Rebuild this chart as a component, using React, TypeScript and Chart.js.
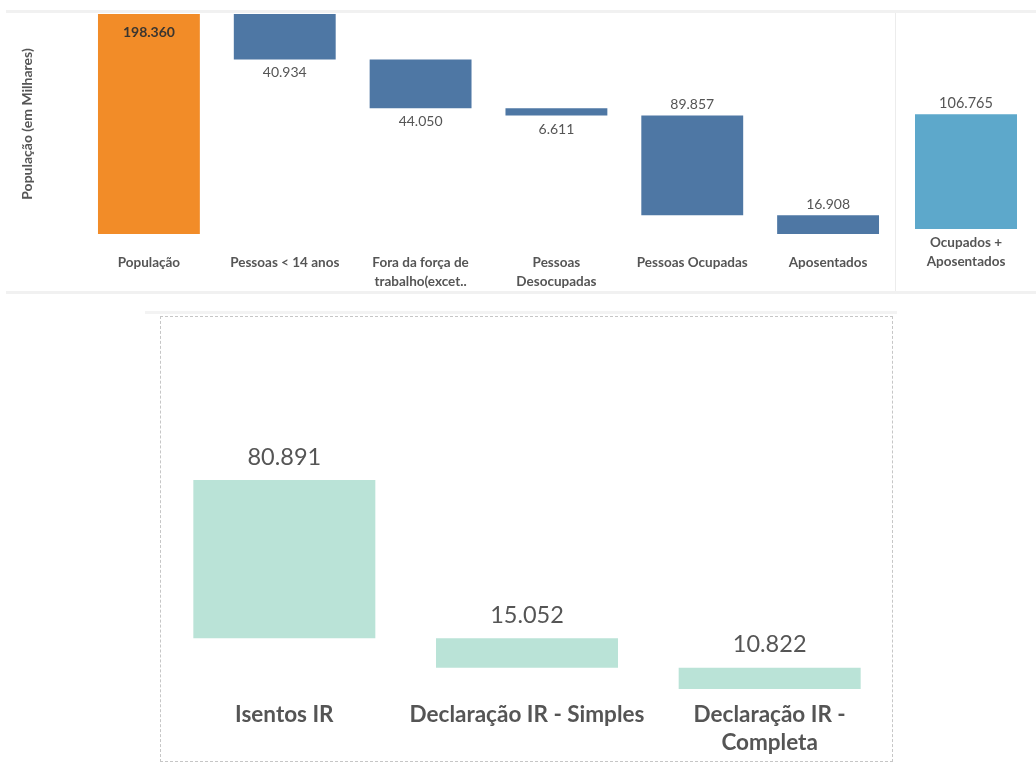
import React, { useEffect, useRef } from "react";
import { Chart, registerables } from "chart.js";
Chart.register(...registerables);

// ---------- data ----------
const topCategories: string[][] = [
  ["População"],
  ["Pessoas < 14 anos"],
  ["Fora da força de", "trabalho(excet.."],
  ["Pessoas", "Desocupadas"],
  ["Pessoas Ocupadas"],
  ["Aposentados"],
];
const topValues = [198360, 40934, 44050, 6611, 89857, 16908];
const totalCategories: string[][] = [["Ocupados +", "Aposentados"]];
const totalValues = [106765];
const irCategories: string[][] = [["Isentos IR"], ["Declaração IR - Simples"], ["Declaração IR -", "Completa"]];
const irValues = [80891, 15052, 10822];
const yAxisTitle = "População (em Milhares)";

// ---------- helpers ----------
function fmt(v: number) {
  return String(Math.round(v)).replace(/\B(?=(\d{3})+(?!\d))/g, ".");
}
function waterfallFromStart(values: number[]) {
  const out: number[][] = [];
  let run = values[0];
  out.push([0, run]);
  for (let i = 1; i < values.length; i++) {
    out.push([run - values[i], run]);
    run -= values[i];
  }
  return out;
}
function waterfallDown(values: number[]) {
  let run = values.reduce((a, b) => a + b, 0);
  return values.map((v) => {
    const seg = [run - v, run];
    run -= v;
    return seg;
  });
}

const FONT = "Lato, 'Open Sans', sans-serif";

const valueLabels = {
  id: "valueLabels",
  afterDatasetsDraw(chart: any, _args: any, opts: any) {
    if (!opts || !opts.values) return;
    const { ctx } = chart;
    const meta = chart.getDatasetMeta(0);
    meta.data.forEach((el: any, i: number) => {
      const p = el.getProps(["x", "y", "base"], true);
      const top = Math.min(p.y, p.base);
      const bottom = Math.max(p.y, p.base);
      const pos = opts.positions[i];
      let y: number;
      ctx.save();
      ctx.textAlign = "center";
      ctx.textBaseline = "middle";
      if (pos === "inside") {
        ctx.font = opts.insideFont;
        ctx.fillStyle = opts.insideColor;
        y = top + opts.insideOffset;
      } else {
        ctx.font = opts.font;
        ctx.fillStyle = opts.color;
        y = pos === "above" ? top - opts.offsetAbove : bottom + opts.offsetBelow;
      }
      ctx.fillText(fmt(opts.values[i]), p.x, y);
      ctx.restore();
    });
  },
};

function useChart(ref: React.RefObject<HTMLCanvasElement>, makeConfig: () => any) {
  useEffect(() => {
    if (!ref.current) return;
    const chart = new Chart(ref.current, makeConfig());
    return () => chart.destroy();
  }, []);
}

const noGrid = { display: false, drawTicks: false };

function MainChart() {
  const ref = useRef<HTMLCanvasElement>(null);
  useChart(ref, () => ({
    type: "bar",
    data: {
      labels: topCategories,
      datasets: [
        {
          data: waterfallFromStart(topValues),
          backgroundColor: ["#F28C28", "#4E77A4", "#4E77A4", "#4E77A4", "#4E77A4", "#4E77A4"],
          categoryPercentage: 1,
          barPercentage: 0.75,
          borderSkipped: false,
        },
      ],
    },
    options: {
      responsive: false,
      animation: false,
      layout: { padding: { top: 2, left: 0, right: 0, bottom: 0 } },
      plugins: {
        legend: { display: false },
        tooltip: { enabled: false },
        valueLabels: {
          values: topValues,
          positions: ["inside", "below", "below", "below", "above", "above"],
          font: `14px ${FONT}`,
          color: "#555555",
          insideFont: `bold 14px ${FONT}`,
          insideColor: "#3a3530",
          offsetAbove: 11,
          offsetBelow: 13.5,
          insideOffset: 18,
        },
      },
      scales: {
        x: {
          grid: noGrid,
          border: { display: false },
          ticks: {
            color: "#555555",
            font: { family: FONT, size: 13.5, weight: "bold", lineHeight: 1.35 },
            padding: 20,
            maxRotation: 0,
            autoSkip: false,
          },
          afterFit: (s: any) => {
            s.height = 58;
          },
        },
        y: {
          min: 0,
          max: 198360,
          grid: noGrid,
          border: { display: false },
          ticks: { display: false },
          title: {
            display: true,
            text: yAxisTitle,
            color: "#555555",
            font: { family: FONT, size: 14, weight: "bold", lineHeight: 1.2 },
            padding: { top: 19, bottom: 0 },
          },
          afterFit: (s: any) => {
            s.width = 81;
          },
        },
      },
    },
    plugins: [valueLabels],
  }));
  return <canvas ref={ref} width={896} height={280} style={{ position: "absolute", left: 0, top: 12, width: 896, height: 280 }} />;
}

function TotalChart() {
  const ref = useRef<HTMLCanvasElement>(null);
  useChart(ref, () => ({
    type: "bar",
    data: {
      labels: totalCategories,
      datasets: [
        {
          data: totalValues.map((v) => [0, v]),
          backgroundColor: "#5DA8CB",
          categoryPercentage: 1,
          barPercentage: 0.75,
          borderSkipped: false,
        },
      ],
    },
    options: {
      responsive: false,
      animation: false,
      layout: { padding: { top: 2, left: 2, right: 2, bottom: 0 } },
      plugins: {
        legend: { display: false },
        tooltip: { enabled: false },
        valueLabels: {
          values: totalValues,
          positions: ["above"],
          font: `14.5px ${FONT}`,
          color: "#555555",
          insideFont: `14px ${FONT}`,
          insideColor: "#555555",
          offsetAbove: 11,
          offsetBelow: 13,
          insideOffset: 18,
        },
      },
      scales: {
        x: {
          grid: noGrid,
          border: { display: false },
          ticks: {
            color: "#555555",
            font: { family: FONT, size: 13.5, weight: "bold", lineHeight: 1.35 },
            padding: 5,
            maxRotation: 0,
            autoSkip: false,
          },
          afterFit: (s: any) => {
            s.height = 63;
          },
        },
        y: {
          display: false,
          min: 0,
          max: 200000,
        },
      },
    },
    plugins: [valueLabels],
  }));
  return <canvas ref={ref} width={140} height={280} style={{ position: "absolute", left: 896, top: 12, width: 140, height: 280 }} />;
}

function IRChart() {
  const ref = useRef<HTMLCanvasElement>(null);
  useChart(ref, () => ({
    type: "bar",
    data: {
      labels: irCategories,
      datasets: [
        {
          data: waterfallDown(irValues),
          backgroundColor: "#BAE3D7",
          categoryPercentage: 1,
          barPercentage: 0.75,
          borderSkipped: false,
        },
      ],
    },
    options: {
      responsive: false,
      animation: false,
      layout: { padding: { top: 2, left: 2, right: 1, bottom: 0 } },
      plugins: {
        legend: { display: false },
        tooltip: { enabled: false },
        valueLabels: {
          values: irValues,
          positions: ["above", "above", "above"],
          font: `23.5px ${FONT}`,
          color: "#555555",
          insideFont: `23px ${FONT}`,
          insideColor: "#555555",
          offsetAbove: 23,
          offsetBelow: 23,
          insideOffset: 20,
        },
      },
      scales: {
        x: {
          grid: noGrid,
          border: { display: false },
          ticks: {
            color: "#555555",
            font: { family: FONT, size: 22.5, weight: "bold", lineHeight: 1.27 },
            padding: 11,
            maxRotation: 0,
            autoSkip: false,
          },
          afterFit: (s: any) => {
            s.height = 72;
          },
        },
        y: {
          display: false,
          min: 0,
          max: 189000,
        },
      },
    },
    plugins: [valueLabels],
  }));
  return <canvas ref={ref} width={731} height={444} style={{ position: "absolute", left: 161, top: 317, width: 731, height: 444 }} />;
}

export default function App() {
  return (
    <div style={{ position: "fixed", left: 0, top: 0, width: 1036, height: 764, background: "#ffffff", overflow: "hidden" }}>
      <div style={{ position: "absolute", left: 6, top: 10, width: 1030, height: 3, background: "#f1f1f1" }} />
      <div style={{ position: "absolute", left: 6, top: 291, width: 1030, height: 3, background: "#f1f1f1" }} />
      <div style={{ position: "absolute", left: 895, top: 13, width: 1, height: 278, background: "#ececec" }} />
      <MainChart />
      <TotalChart />
      <div style={{ position: "absolute", left: 145, top: 311, width: 752, height: 3, background: "#f3f3f3" }} />
      <div style={{ position: "absolute", left: 160, top: 316, width: 731, height: 444, border: "1px dashed #c6c6c6" }} />
      <IRChart />
    </div>
  );
}
